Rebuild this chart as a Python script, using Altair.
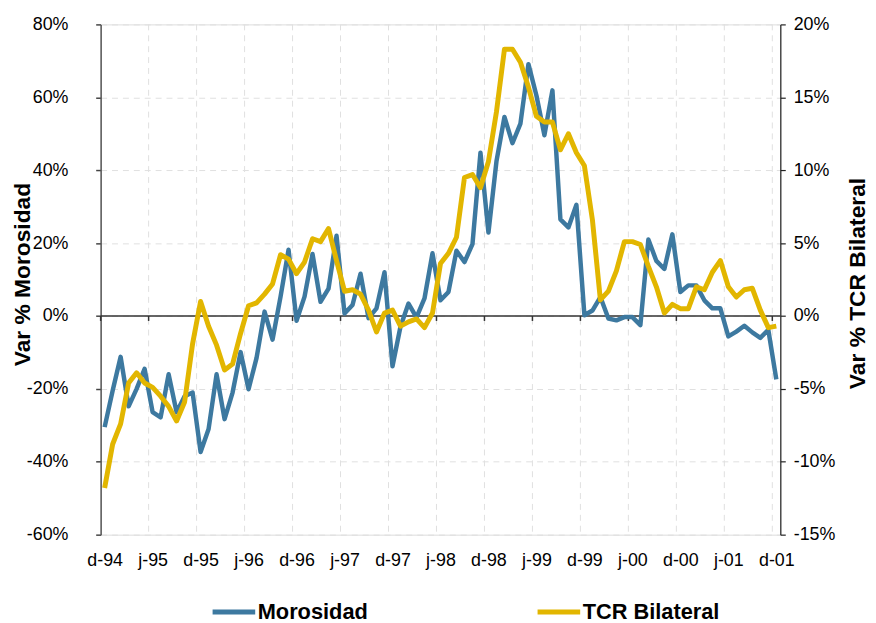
import altair as alt
import pandas as pd

# ---- data (monthly, Dec-94 .. Dec-01) ----
tick_labels = ["d-94", "j-95", "d-95", "j-96", "d-96", "j-97", "d-97", "j-98",
               "d-98", "j-99", "d-99", "j-00", "d-00", "j-01", "d-01"]
series_names = ["Morosidad", "TCR Bilateral"]

morosidad = [
    -30.5, -20.5, -11.2, -24.8, -20.0, -14.5, -26.4, -27.8, -16.0, -26.4, -22.0, -21.0,
    -37.3, -31.0, -16.0, -28.3, -21.0, -9.9, -20.1, -11.5, 1.2, -6.5, 5.3, 18.2,
    -1.3, 5.3, 17.0, 3.9, 7.5, 22.0, 0.7, 3.0, 11.6, -0.6, 2.1, 12.0,
    -13.8, -2.9, 3.4, -0.4, 4.8, 17.2, 4.3, 6.6, 17.9, 14.8, 19.7, 44.8,
    22.9, 42.4, 54.6, 47.4, 52.8, 69.1, 60.5, 49.6, 61.9, 26.5, 24.3, 30.5,
    0.2, 1.5, 5.2, -0.7, -1.2, -0.3, -0.3, -2.5, 21.0, 15.1, 12.9, 22.4,
    6.6, 8.4, 8.4, 4.3, 2.1, 2.1, -5.6, -4.3, -2.7, -4.5, -6.0, -3.8,
    -17.4,
]
tcr = [
    -11.8, -8.8, -7.4, -4.6, -3.9, -4.6, -4.9, -5.5, -6.2, -7.2, -5.9, -1.9,
    1.0, -0.7, -2.0, -3.7, -3.3, -1.2, 0.7, 0.9, 1.5, 2.2, 4.2, 3.9,
    2.9, 3.7, 5.3, 5.1, 6.0, 3.8, 1.7, 1.8, 1.5, 0.4, -1.1, 0.2,
    0.4, -0.7, -0.4, -0.2, -0.8, 0.2, 3.6, 4.3, 5.4, 9.5, 9.7, 8.8,
    10.6, 14.0, 18.3, 18.3, 17.4, 15.7, 13.7, 13.3, 13.3, 11.4, 12.5, 11.2,
    10.3, 6.6, 1.1, 1.7, 3.1, 5.1, 5.1, 4.9, 3.4, 2.0, 0.2, 0.8,
    0.5, 0.5, 2.0, 1.8, 3.0, 3.8, 2.0, 1.3, 1.8, 1.9, 0.4, -0.8,
    -0.7,
]
months = list(range(len(morosidad)))
label_pos = list(range(0, len(months), 6))
grid_pos = [k - 0.5 for k in range(6, len(months) + 1, 6)]
tick_pos = [-0.5] + grid_pos
left_vals = [-60, -40, -20, 0, 20, 40, 60, 80]
right_vals = [-15, -10, -5, 0, 5, 10, 15, 20]

BLUE = "#3D79A0"
YELLOW = "#E2B600"
FONT = "Liberation Sans"

df = pd.DataFrame({
    "i": months + months,
    "serie": [series_names[0]] * len(months) + [series_names[1]] * len(months),
    "valor": morosidad + tcr,
})
grid_df = pd.DataFrame({"i": grid_pos})
tick_df = pd.DataFrame({"i": tick_pos})
zero_df = pd.DataFrame({"v": [0]})

label_js = "[" + ",".join("'" + t + "'" for t in tick_labels) + "][round(datum.value/6)]"

x_scale = alt.Scale(domain=[-0.5, len(months) - 0.5], nice=False, zero=False)
x_axis = alt.Axis(values=label_pos, labelExpr=label_js, ticks=False, tickSize=0,
                  domain=False, grid=False, labelPadding=17, labelFontSize=18,
                  labelFont=FONT, labelColor="black", title=None)
x_enc = alt.X("i:Q", scale=x_scale, axis=x_axis)

left_scale = alt.Scale(domain=[-60, 80], nice=False, zero=False)
right_scale = alt.Scale(domain=[-15, 20], nice=False, zero=False)

left_axis = alt.Axis(orient="left", values=left_vals, labelExpr="datum.value + '%'",
                     tickSize=5, tickColor="#444444", tickWidth=1.5,
                     domainColor="#555555", domainWidth=1.5,
                     labelPadding=28, labelFontSize=18, labelFont=FONT, labelColor="black",
                     grid=True, gridDash=[6, 5], gridColor="#e0e0e0", gridWidth=1,
                     title="Var % Morosidad", titleFont=FONT, titleFontSize=23,
                     titleFontWeight="bold", titleColor="black",
                     titleX=-79, titleY=252, titleAngle=270,
                     titleAlign="center", titleBaseline="middle")
right_axis = alt.Axis(orient="right", values=right_vals, labelExpr="datum.value + '%'",
                      tickSize=5, tickColor="#222222", tickWidth=1.2,
                      domainColor="#222222", domainWidth=1.2,
                      labelPadding=8, labelFontSize=18, labelFont=FONT, labelColor="black",
                      grid=False,
                      title="Var % TCR Bilateral", titleFont=FONT, titleFontSize=23,
                      titleFontWeight="bold", titleColor="black",
                      titleX=78, titleY=261, titleAngle=270,
                      titleAlign="center", titleBaseline="middle")

color_enc = alt.Color("serie:N",
                      scale=alt.Scale(domain=series_names, range=[BLUE, YELLOW]),
                      legend=alt.Legend(orient="none", legendX=110.5, legendY=569,
                                        direction="horizontal", title=None,
                                        symbolType="stroke", symbolStrokeWidth=5,
                                        symbolSize=1849, labelFont=FONT,
                                        labelFontSize=22, labelFontWeight="bold",
                                        labelColor="black", labelOffset=0,
                                        columnPadding=160, labelLimit=300))

grid = alt.Chart(grid_df).mark_rule(color="#e0e0e0", strokeWidth=1,
                                    strokeDash=[6, 5]).encode(x=x_enc)

zero_line = alt.Chart(zero_df).mark_rule(color="#333333", strokeWidth=1.5).encode(
    y=alt.Y("v:Q", scale=left_scale, axis=left_axis))
zero_ticks = alt.Chart(tick_df).mark_rule(color="#333333", strokeWidth=1.5).encode(
    x=x_enc, y=alt.datum(0), y2=alt.datum(-1.36))

blue_line = alt.Chart(df).transform_filter(
    alt.datum.serie == series_names[0]
).mark_line(strokeWidth=4.5, strokeJoin="round").encode(
    x=x_enc,
    y=alt.Y("valor:Q", scale=left_scale, axis=left_axis),
    color=color_enc,
)

yellow_line = alt.Chart(df).transform_filter(
    alt.datum.serie == series_names[1]
).mark_line(strokeWidth=5, strokeJoin="round").encode(
    x=x_enc,
    y=alt.Y("valor:Q", scale=right_scale, axis=right_axis),
    color=color_enc,
)

left_group = alt.layer(zero_line, zero_ticks, blue_line)

chart = alt.layer(grid, left_group, yellow_line).resolve_scale(
    y="independent"
).properties(
    width=686, height=515, autosize="none",
    padding={"left": 93.5, "top": 13.7, "right": 88.5, "bottom": 86.3},
).configure_view(stroke=None).configure(background="white")

chart.save("out.html", embed_options={"renderer": "svg", "actions": False})
